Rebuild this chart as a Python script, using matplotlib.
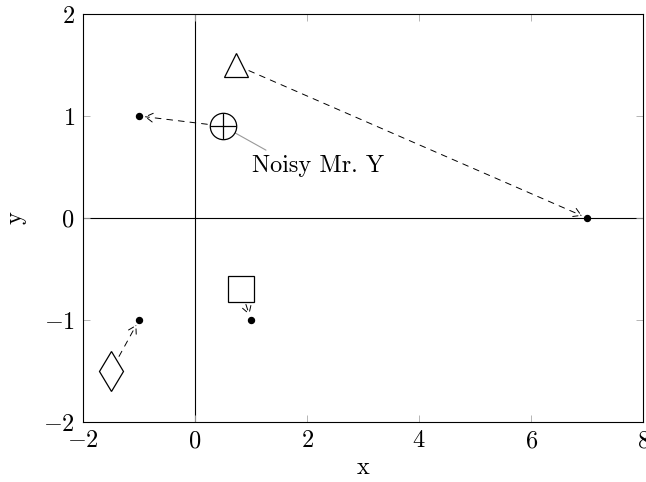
import matplotlib.pyplot as plt
import numpy as np

plt.rcParams["font.family"] = "serif"
plt.rcParams["font.serif"] = ["cmr10"]
plt.rcParams["mathtext.fontset"] = "cm"
plt.rcParams["axes.formatter.use_mathtext"] = True
plt.rcParams["font.size"] = 17.5

# true positions (dots) and noisy observations (shapes)
true_x = [-1, 7, 1, -1]
true_y = [1, 0, -1, -1]
noisy_x = [0.5, 0.73, 0.82, -1.5]
noisy_y = [0.9, 1.5, -0.7, -1.5]
markers = ["o", "^", "s", "d"]
sizes = [19, 17, 19, 20]
label = "Noisy Mr. Y"

fig = plt.figure(figsize=(6.46, 4.82), dpi=100)
ax = fig.add_axes([0.1285, 0.1245, 0.867, 0.8465])

ax.axhline(0, color="black", lw=0.8, zorder=1)
ax.axvline(0, color="black", lw=0.8, zorder=1)

ax.plot(true_x, true_y, "o", color="black", markersize=4.3, zorder=3)

for nx, ny, tx, ty, m, s in zip(noisy_x, noisy_y, true_x, true_y, markers, sizes):
    ax.plot(nx, ny, m, markersize=s, markerfacecolor="white",
            markeredgecolor="black", markeredgewidth=0.9, zorder=2)
    if m == "o":
        ax.plot(nx, ny, "+", markersize=s, color="black", markeredgewidth=0.9, zorder=2)
    ax.annotate("", xy=(tx, ty), xytext=(nx, ny),
                arrowprops=dict(arrowstyle="->,head_length=0.3,head_width=0.18",
                                linestyle=(0, (6, 6)), color="black",
                                lw=0.7, shrinkA=s * 0.6, shrinkB=4),
                zorder=4)

ax.annotate(label, xy=(noisy_x[0], noisy_y[0]), xytext=(1.02, 0.45),
            va="baseline",
            arrowprops=dict(arrowstyle="-", color="#999999", lw=0.8,
                            shrinkA=3, shrinkB=0,
                            relpos=(0.17, 1.0)),
            zorder=1.5)

ax.set_xlim(-2, 8)
ax.set_ylim(-2, 2)
ax.set_xticks(np.arange(-2, 9, 2))
ax.set_yticks(np.arange(-2, 3, 1))
ax.tick_params(direction="in", top=True, right=True, length=5, width=0.6,
               color="#aaaaaa", pad=6)
ax.set_xlabel("x", labelpad=3)
ax.set_ylabel("y", labelpad=12)
for sp in ax.spines.values():
    sp.set_linewidth(0.8)

fig.savefig("out.png", dpi=100)
